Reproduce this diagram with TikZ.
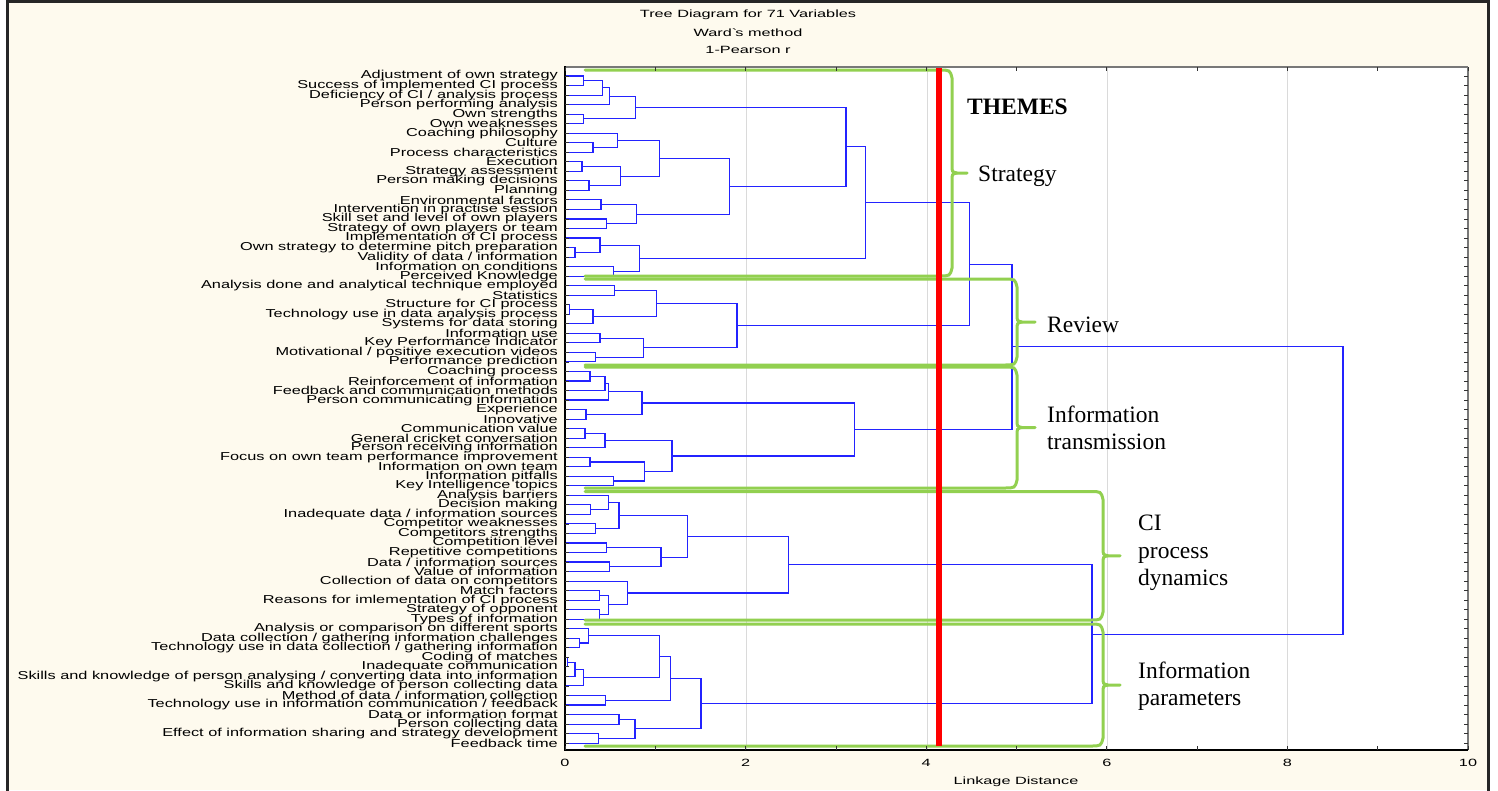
\documentclass[tikz,border=0pt]{standalone}
\usepackage{fontspec}
\setmainfont{Liberation Serif}
\newfontfamily\labfont[FakeStretch=1.42]{Liberation Sans}
\newfontfamily\titfont[FakeStretch=1.55]{Liberation Sans}
\usetikzlibrary{calc}
\definecolor{cream}{RGB}{254,250,238}
\definecolor{dblue}{RGB}{35,35,255}
\definecolor{brgreen}{RGB}{146,208,80}
\definecolor{gridgray}{RGB}{218,218,218}
\definecolor{axgray}{RGB}{120,120,120}
\tikzset{
  den/.style={draw=dblue, line width=1.1pt},
  leaflab/.style={anchor=east, inner sep=0pt, font=\labfont\fontsize{11.5}{11.5}\selectfont},
  smalltxt/.style={font=\titfont\fontsize{10.5}{10.5}\selectfont, inner sep=0pt},
  theme/.style={anchor=west, inner sep=0pt, align=left, font=\fontsize{23.5}{27.5}\selectfont},
  grn/.style={draw=brgreen, line width=3pt, line cap=round},
  redcut/.style={draw=red, line width=6pt},
}
\newcommand\leaf[2]{\coordinate (L#1) at (565,{76+9.53*#1});
  \node[leaflab] (T#1) at (558,{76+9.53*#1}) {#2};}
\newcommand\mrg[4]{%
  \path let \p1=(#3), \p2=(#4) in coordinate (#1) at (#2pt,{(\y1+\y2)/2});
  \draw[den] (#3) -| (#1);
  \draw[den] (#4) -| (#1);}
\newcommand\gbrace[4]{% top, bottom, brace x, tip x
  \draw[grn] (585,#1) -- ({#3-13},#1) .. controls ({#3-2},#1) .. (#3,{#1+8})
     -- (#3,{(#1+#2)/2-8}) .. controls (#3,{(#1+#2)/2-1}) .. ({#3+5},{(#1+#2)/2}) -- (#4,{(#1+#2)/2});
  \draw[grn] (585,#2) -- ({#3-13},#2) .. controls ({#3-2},#2) .. (#3,{#2-8})
     -- (#3,{(#1+#2)/2+8}) .. controls (#3,{(#1+#2)/2+1}) .. ({#3+5},{(#1+#2)/2});}
\begin{document}
\begin{tikzpicture}[x=1pt,y=-1pt]
\useasboundingbox (0,0) rectangle (1498,790);
\fill[white] (0,0) rectangle (1498,790);
\fill[cream] (7,2) rectangle (1488,790);
\draw[line width=3pt, black!85] (7,800) -- (7,1.5) -- (1488,1.5) -- (1488,800);
% titles
\node[smalltxt] (t1) at (748,15) {Tree Diagram for 71 Variables};
\node[smalltxt] (t2) at (748,33) {Ward\textasciigrave s method};
\node[smalltxt] (t3) at (748,50) {1-Pearson r};
% plot area
\fill[white] (565,67) rectangle (1468,750);
\foreach \x in {746.5,927,1107,1287.5} \draw[gridgray, line width=1pt] (\x,67) -- (\x,750);
% leaves
\leaf{0}{Adjustment of own strategy}
\leaf{1}{Success of implemented CI process}
\leaf{2}{Deficiency of CI / analysis process}
\leaf{3}{Person performing analysis}
\leaf{4}{Own strengths}
\leaf{5}{Own weaknesses}
\leaf{6}{Coaching philosophy}
\leaf{7}{Culture}
\leaf{8}{Process characteristics}
\leaf{9}{Execution}
\leaf{10}{Strategy assessment}
\leaf{11}{Person making decisions}
\leaf{12}{Planning}
\leaf{13}{Environmental factors}
\leaf{14}{Intervention in practise session}
\leaf{15}{Skill set and level of own players}
\leaf{16}{Strategy of own players or team}
\leaf{17}{Implementation of CI process}
\leaf{18}{Own strategy to determine pitch preparation}
\leaf{19}{Validity of data / information}
\leaf{20}{Information on conditions}
\leaf{21}{Perceived Knowledge}
\leaf{22}{Analysis done and analytical technique employed}
\leaf{23}{Statistics}
\leaf{24}{Structure for CI process}
\leaf{25}{Technology use in data analysis process}
\leaf{26}{Systems for data storing}
\leaf{27}{Information use}
\leaf{28}{Key Performance Indicator}
\leaf{29}{Motivational / positive execution videos}
\leaf{30}{Performance prediction}
\leaf{31}{Coaching process}
\leaf{32}{Reinforcement of information}
\leaf{33}{Feedback and communication methods}
\leaf{34}{Person communicating information}
\leaf{35}{Experience}
\leaf{36}{Innovative}
\leaf{37}{Communication value}
\leaf{38}{General cricket conversation}
\leaf{39}{Person receiving information}
\leaf{40}{Focus on own team performance improvement}
\leaf{41}{Information on own team}
\leaf{42}{Information pitfalls}
\leaf{43}{Key Intelligence topics}
\leaf{44}{Analysis barriers}
\leaf{45}{Decision making}
\leaf{46}{Inadequate data / information sources}
\leaf{47}{Competitor weaknesses}
\leaf{48}{Competitors strengths}
\leaf{49}{Competition level}
\leaf{50}{Repetitive competitions}
\leaf{51}{Data / information sources}
\leaf{52}{Value of information}
\leaf{53}{Collection of data on competitors}
\leaf{54}{Match factors}
\leaf{55}{Reasons for imlementation of CI process}
\leaf{56}{Strategy of opponent}
\leaf{57}{Types of information}
\leaf{58}{Analysis or comparison on different sports}
\leaf{59}{Data collection / gathering information challenges}
\leaf{60}{Technology use in data collection / gathering information}
\leaf{61}{Coding of matches}
\leaf{62}{Inadequate communication}
\leaf{63}{Skills and knowledge of person analysing / converting data into information}
\leaf{64}{Skills and knowledge of person collecting data}
\leaf{65}{Method of data / information collection}
\leaf{66}{Technology use in information communication / feedback}
\leaf{67}{Data or information format}
\leaf{68}{Person collecting data}
\leaf{69}{Effect of information sharing and strategy development}
\leaf{70}{Feedback time}
% Strategy
\mrg{m1}{583.3}{L0}{L1}
\mrg{m2}{602.3}{m1}{L2}
\mrg{m3}{609.3}{m2}{L3}
\mrg{m4}{583.3}{L4}{L5}
\mrg{m5}{635.3}{m3}{m4}
\mrg{m6}{593}{L7}{L8}
\mrg{m7}{617.7}{L6}{m6}
\mrg{m8}{582}{L9}{L10}
\mrg{m9}{589}{L11}{L12}
\mrg{m10}{620.3}{m8}{m9}
\mrg{m11}{659.7}{m7}{m10}
\mrg{m12}{601}{L13}{L14}
\mrg{m13}{606.7}{L15}{L16}
\mrg{m14}{636.7}{m12}{m13}
\mrg{m15}{729.3}{m11}{m14}
\mrg{m16}{846}{m5}{m15}
\mrg{m17}{575}{L18}{L19}
\mrg{m18}{600}{L17}{m17}
\mrg{m19}{613.3}{L20}{L21}
\mrg{m20}{639.3}{m18}{m19}
\mrg{S}{865.3}{m16}{m20}
% Review
\mrg{r1}{614.7}{L22}{L23}
\mrg{r2}{569.3}{L24}{L25}
\mrg{r3}{593}{r2}{L26}
\mrg{r4}{656.7}{r1}{r3}
\mrg{r5}{600}{L27}{L28}
\mrg{r6}{595.7}{L29}{L30}
\mrg{r7}{643.3}{r5}{r6}
\mrg{R}{737}{r4}{r7}
\mrg{SR}{969.7}{S}{R}
% Information transmission
\mrg{i1}{590}{L31}{L32}
\mrg{i2}{605}{i1}{L33}
\mrg{i3}{608.3}{i2}{L34}
\mrg{i4}{586}{L35}{L36}
\mrg{i5}{642}{i3}{i4}
\mrg{i6}{585}{L37}{L38}
\mrg{i7}{605}{i6}{L39}
\mrg{i8}{590}{L40}{L41}
\mrg{i9}{613.3}{L42}{L43}
\mrg{i10}{644.3}{i8}{i9}
\mrg{i11}{672}{i7}{i10}
\mrg{I}{854.3}{i5}{i11}
\mrg{SRI}{1012}{SR}{I}
% CI process dynamics
\mrg{c1}{590.4}{L45}{L46}
\mrg{c2}{608.2}{L44}{c1}
\mrg{c3}{595.7}{L47}{L48}
\mrg{c4}{619}{c2}{c3}
\mrg{c5}{606.4}{L49}{L50}
\mrg{c6}{609.3}{L51}{L52}
\mrg{c7}{661}{c5}{c6}
\mrg{c8}{687.9}{c4}{c7}
\mrg{c9}{599.3}{L54}{L55}
\mrg{c10}{599.3}{L56}{L57}
\mrg{c11}{608.2}{c9}{c10}
\mrg{c12}{627.9}{L53}{c11}
\mrg{C}{788.6}{c8}{c12}
% Information parameters
\mrg{p1}{579.6}{L59}{L60}
\mrg{p2}{588.6}{L58}{p1}
\mrg{p3}{567.9}{L61}{L62}
\mrg{p4}{575}{p3}{L63}
\mrg{p5}{583.2}{p4}{L64}
\mrg{p6}{659.3}{p2}{p5}
\mrg{p7}{605.4}{L65}{L66}
\mrg{p8}{670.7}{p6}{p7}
\mrg{p9}{619}{L67}{L68}
\mrg{p10}{598.6}{L69}{L70}
\mrg{p11}{635}{p9}{p10}
\mrg{P}{701}{p8}{p11}
\mrg{CP}{1092}{C}{P}
\mrg{ROOT}{1343}{SRI}{CP}
% green braces
\gbrace{70}{276}{952}{967}
\gbrace{279}{365}{1017}{1035}
\gbrace{367}{488}{1017}{1035}
\gbrace{491.5}{620}{1103}{1120}
\gbrace{624}{746}{1103}{1120}
% red cut line
\draw[redcut] (938.5,67) -- (938.5,746);
% axes
\draw[axgray, line width=2pt] (565,67) -- (1468,67);
\draw[axgray, line width=1.2pt] (1468,67) -- (1468,750);
\draw[black, line width=1.4pt] (565,66) -- (565,750) -- (1468,750);
\foreach \i in {0,...,70} {
  \draw[black!80, line width=0.8pt] (565,{76+9.53*\i}) -- (569,{76+9.53*\i});
  \draw[black!80, line width=0.8pt] (1468,{76+9.53*\i}) -- (1464,{76+9.53*\i});
}
\foreach \i in {0,...,10} {
  \draw[black!80, line width=0.8pt] ({565+90.3*\i},750) -- ({565+90.3*\i},746);
  \draw[black!80, line width=0.8pt] ({565+90.3*\i},67) -- ({565+90.3*\i},71);
}
\foreach \i in {0,2,...,10} \node[smalltxt] (x\i) at ({565+90.3*\i},763) {\i};
\node[smalltxt] (xlab) at (1016,782) {Linkage Distance};
% theme labels
\node[theme, font=\bfseries\fontsize{23.5}{27.5}\selectfont] (themes) at (967,107) {THEMES};
\node[theme] (lstrat) at (978,176) {Strategy};
\node[theme] (lrev) at (1047,325) {Review};
\node[theme] (linfo) at (1047,428) {Information\\transmission};
\node[theme] (lci) at (1138,553) {CI\\process\\dynamics};
\node[theme] (lpar) at (1138,686) {Information\\parameters};
\end{tikzpicture}
\end{document}
